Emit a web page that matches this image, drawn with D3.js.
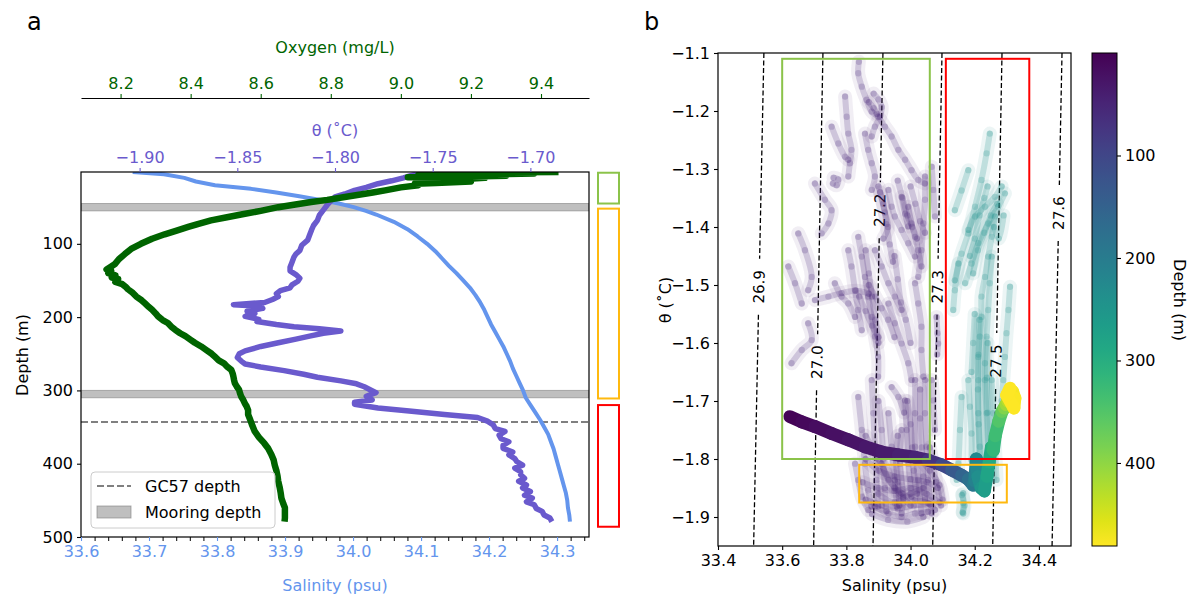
<!DOCTYPE html>
<html>
<head>
<meta charset="utf-8">
<script src="https://cdn.jsdelivr.net/npm/d3@7"></script>
<style>
  body { margin: 0; background: #fff; }
  svg text { font-family: "DejaVu Sans", sans-serif; }
</style>
</head>
<body>
<svg id="fig" width="1198" height="594"></svg>
<script>
// ---------- panel a : CTD profiles, [depth (m), value] ----------
const salinityProfile = [[2,33.676],[5,33.722],[10,33.752],[15,33.769],[20,33.797],[25,33.850],[30,33.887],[35,33.921],[40,33.952],[45,33.979],
  [50,34.001],[55,34.019],[60,34.034],[70,34.060],[80,34.080],[90,34.095],[100,34.109],[110,34.121],[120,34.131],[130,34.141],
  [140,34.152],[150,34.162],[160,34.172],[170,34.180],[180,34.187],[190,34.193],[200,34.198],[210,34.203],[220,34.209],[230,34.215],
  [240,34.221],[250,34.226],[260,34.231],[270,34.235],[280,34.240],[290,34.245],[300,34.250],[310,34.254],[320,34.261],[330,34.268],
  [340,34.275],[350,34.281],[360,34.287],[370,34.291],[380,34.295],[390,34.298],[400,34.301],[410,34.304],[420,34.307],[430,34.310],
  [440,34.313],[450,34.315],[460,34.316],[470,34.318],[479,34.319]];

const thetaProfile = [[2,-1.751],[6,-1.760],[10,-1.765],[14,-1.771],[18,-1.778],[23,-1.784],[27,-1.790],[32,-1.795],[36,-1.800],[41,-1.802],
  [47,-1.804],[54,-1.806],[61,-1.808],[68,-1.809],[75,-1.811],[81,-1.812],[88,-1.813],[95,-1.814],[102,-1.817],[109,-1.818],
  [114,-1.820],[118,-1.821],[125,-1.822],[132,-1.823],[137,-1.823],[142,-1.820],[147,-1.818],[151,-1.819],[156,-1.822],[160,-1.823],
  [164,-1.828],[168,-1.830],[172,-1.829],[176,-1.832],[180,-1.836],[183,-1.852],[185,-1.838],[188,-1.837],[192,-1.845],[195,-1.841],
  [199,-1.846],[203,-1.839],[206,-1.840],[210,-1.830],[213,-1.821],[216,-1.808],[219,-1.797],[222,-1.806],[226,-1.813],[230,-1.820],
  [235,-1.829],[240,-1.838],[246,-1.846],[250,-1.849],[255,-1.850],[260,-1.848],[264,-1.846],[268,-1.838],[273,-1.826],[278,-1.816],
  [282,-1.809],[287,-1.797],[291,-1.789],[295,-1.785],[299,-1.782],[303,-1.779],[308,-1.784],[313,-1.781],[316,-1.790],[319,-1.790],
  [324,-1.778],[328,-1.762],[333,-1.744],[337,-1.727],[342,-1.722],[347,-1.719],[352,-1.718],[356,-1.713],[361,-1.716],[366,-1.715],
  [370,-1.711],[375,-1.714],[379,-1.714],[384,-1.709],[388,-1.711],[393,-1.708],[397,-1.707],[402,-1.704],[406,-1.708],[411,-1.705],
  [415,-1.705],[420,-1.703],[424,-1.706],[429,-1.702],[433,-1.704],[438,-1.700],[443,-1.703],[447,-1.699],[452,-1.702],[456,-1.698],
  [461,-1.697],[465,-1.694],[470,-1.693],[474,-1.690],[479,-1.689]];

const oxygenProfile = [[2,9.45],[3,9.10],[4,9.38],[5,9.27],[6,9.05],[7,9.30],[8,9.20],[9,9.02],[10,9.24],[12,9.17],
  [14,9.05],[15,9.20],[17,9.10],[18,9.04],[20,9.05],[23,9.00],[27,8.955],[30,8.92],[33,8.88],[36,8.84],
  [40,8.79],[43,8.744],[47,8.69],[50,8.65],[55,8.60],[60,8.544],[64,8.50],[68,8.458],[73,8.42],[77,8.393],
  [82,8.36],[87,8.326],[93,8.29],[100,8.258],[107,8.23],[114,8.212],[121,8.195],[128,8.183],[132,8.170],[135,8.160],
  [137,8.173],[140,8.165],[143,8.185],[146,8.175],[148,8.193],[152,8.185],[155,8.205],[159,8.215],[162,8.221],[167,8.235],
  [172,8.245],[177,8.26],[181,8.269],[186,8.28],[190,8.29],[195,8.30],[199,8.307],[204,8.32],[208,8.335],[213,8.345],
  [217,8.355],[222,8.37],[226,8.385],[231,8.40],[235,8.412],[240,8.43],[245,8.445],[250,8.46],[254,8.469],[259,8.48],
  [263,8.495],[268,8.505],[272,8.516],[277,8.52],[281,8.522],[286,8.524],[290,8.526],[295,8.532],[299,8.538],[304,8.541],
  [308,8.544],[313,8.55],[318,8.555],[322,8.56],[327,8.564],[333,8.564],[340,8.57],[348,8.576],[356,8.583],[364,8.595],
  [372,8.61],[379,8.621],[387,8.63],[395,8.637],[402,8.640],[410,8.645],[417,8.648],[424,8.650],[432,8.654],[440,8.657],
  [447,8.659],[454,8.664],[460,8.669],[467,8.669],[474,8.669],[479,8.668]];

const mooringBands = [[45, 55], [300, 310]];   // depth ranges (m)
const gc57Depth = 343;
const layerDepths = [[3, 45], [52, 311], [320, 486]];
const layerColors = ["#8bc34a", "#ffb90f", "#ff0000"];

const salinityTicks = [33.6, 33.7, 33.8, 33.9, 34.0, 34.1, 34.2, 34.3];
const thetaTicks = [-1.90, -1.85, -1.80, -1.75, -1.70];
const oxygenTicks = [8.2, 8.4, 8.6, 8.8, 9.0, 9.2, 9.4];
const depthTicks = [100, 200, 300, 400, 500];

// ---------- panel b : theta-S ----------
// CTD cast [salinity, theta, depth]
const ctdCast = [[33.624,-1.727,3],[33.661,-1.736,8],[33.702,-1.744,13],[33.754,-1.756,18],[33.806,-1.767,23],[33.858,-1.779,28],
  [33.910,-1.788,33],[33.962,-1.793,38],[34.014,-1.797,45],[34.055,-1.802,55],[34.097,-1.810,90],[34.128,-1.819,120],
  [34.159,-1.828,145],[34.180,-1.835,165],[34.195,-1.845,185],[34.200,-1.838,200],[34.205,-1.800,218],[34.210,-1.830,230],
  [34.220,-1.850,245],[34.230,-1.855,260],[34.238,-1.830,275],[34.245,-1.805,285],[34.252,-1.780,300],[34.258,-1.785,312],
  [34.264,-1.760,325],[34.275,-1.735,340],[34.285,-1.718,360],[34.292,-1.712,380],[34.298,-1.706,400],[34.303,-1.700,420],
  [34.308,-1.695,440],[34.313,-1.688,460],[34.318,-1.684,472],[34.325,-1.695,476],[34.322,-1.712,479],[34.300,-1.690,480],[34.310,-1.678,480]];

// mooring time series streaks [salinity, theta]
const upperMooringDepth = 50;
const upperMooring = [
  [[33.839,-1.115],[33.837,-1.135],[33.848,-1.158],[33.863,-1.181],[33.879,-1.201],[33.899,-1.210],[33.920,-1.227],[33.941,-1.244],[33.962,-1.267],[33.983,-1.284],[34.003,-1.302],[34.024,-1.319],[34.045,-1.325]],
  [[33.885,-1.170],[33.900,-1.180],[33.910,-1.193],[33.905,-1.210],[33.889,-1.227],[33.879,-1.244]],
  [[33.870,-1.185],[33.885,-1.195],[33.895,-1.205]],
  [[33.796,-1.175],[33.801,-1.210],[33.806,-1.239],[33.816,-1.267],[33.811,-1.290],[33.806,-1.313]],
  [[33.754,-1.227],[33.775,-1.256],[33.796,-1.279],[33.806,-1.284]],
  [[33.760,-1.315],[33.775,-1.318],[33.770,-1.328],[33.758,-1.325]],
  [[33.858,-1.239],[33.868,-1.267],[33.879,-1.290],[33.889,-1.313],[33.879,-1.336]],
  [[33.702,-1.325],[33.733,-1.353],[33.754,-1.371],[33.744,-1.394],[33.723,-1.411]],
  [[33.650,-1.411],[33.671,-1.440],[33.692,-1.486],[33.681,-1.509]],
  [[33.931,-1.336],[33.941,-1.365],[33.951,-1.382],[33.972,-1.405],[33.993,-1.428],[34.014,-1.451]],
  [[33.993,-1.365],[34.003,-1.394],[34.014,-1.417],[34.024,-1.440],[34.034,-1.468]],
  [[34.045,-1.313],[34.045,-1.353],[34.040,-1.394],[34.034,-1.440],[34.024,-1.486]],
  [[33.972,-1.348],[33.983,-1.377],[33.993,-1.399]],
  [[33.905,-1.340],[33.920,-1.375],[33.930,-1.400],[33.915,-1.420]],
  [[33.900,-1.330],[33.915,-1.360],[33.925,-1.395],[33.935,-1.430],[33.945,-1.460]],
  [[33.960,-1.320],[33.975,-1.350],[33.990,-1.380],[34.005,-1.400],[34.020,-1.420]],
  [[34.000,-1.330],[34.015,-1.360],[34.030,-1.390],[34.045,-1.410]],
  [[33.837,-1.417],[33.848,-1.451],[33.858,-1.486],[33.868,-1.520],[33.879,-1.555],[33.889,-1.589],[33.899,-1.624],[33.899,-1.658]],
  [[33.860,-1.440],[33.870,-1.480],[33.880,-1.520],[33.890,-1.560],[33.900,-1.600]],
  [[33.889,-1.440],[33.910,-1.468],[33.931,-1.497],[33.951,-1.520],[33.972,-1.543]],
  [[33.870,-1.500],[33.890,-1.520],[33.910,-1.540],[33.930,-1.560],[33.950,-1.590]],
  [[33.840,-1.520],[33.860,-1.545],[33.880,-1.570],[33.900,-1.590]],
  [[33.950,-1.450],[33.960,-1.490],[33.970,-1.530],[33.985,-1.560],[34.000,-1.600]],
  [[33.806,-1.440],[33.816,-1.468],[33.827,-1.509],[33.837,-1.543],[33.848,-1.578]],
  [[33.764,-1.497],[33.785,-1.520],[33.806,-1.532],[33.827,-1.555]],
  [[33.702,-1.526],[33.744,-1.520],[33.785,-1.514],[33.830,-1.510],[33.870,-1.515]],
  [[33.931,-1.532],[33.951,-1.566],[33.972,-1.601],[33.993,-1.635],[34.003,-1.664]],
  [[34.014,-1.497],[34.024,-1.532],[34.034,-1.572],[34.034,-1.612],[34.040,-1.658]],
  [[33.629,-1.635],[33.661,-1.612],[33.692,-1.595],[33.681,-1.566]],
  [[33.619,-1.468],[33.640,-1.497],[33.661,-1.532]],
  [[34.066,-1.296],[34.071,-1.336],[34.076,-1.382]],
  [[34.081,-1.555],[34.084,-1.583],[34.086,-1.601],[34.083,-1.620]],
  [[34.014,-1.664],[34.014,-1.721],[34.014,-1.779],[34.024,-1.836],[34.034,-1.894]],
  [[34.045,-1.664],[34.045,-1.721],[34.050,-1.779],[34.055,-1.836],[34.066,-1.894]],
  [[33.983,-1.699],[33.988,-1.750],[33.993,-1.808],[34.003,-1.865]],
  [[33.972,-1.750],[33.967,-1.808],[33.977,-1.865],[33.972,-1.894]],
  [[33.931,-1.721],[33.941,-1.779],[33.951,-1.836],[33.957,-1.882]],
  [[33.879,-1.664],[33.884,-1.721],[33.889,-1.779],[33.894,-1.836],[33.899,-1.882]],
  [[33.837,-1.693],[33.848,-1.750],[33.858,-1.808],[33.868,-1.854],[33.879,-1.882]],
  [[33.827,-1.808],[33.837,-1.836],[33.848,-1.865],[33.868,-1.888]],
  [[33.910,-1.808],[33.931,-1.836],[33.972,-1.859],[34.014,-1.871],[34.055,-1.876],[34.076,-1.888]],
  [[33.889,-1.882],[33.931,-1.894],[33.972,-1.900],[34.014,-1.894],[34.055,-1.891]],
  [[34.066,-1.664],[34.071,-1.699],[34.076,-1.750]],
  [[33.941,-1.676],[33.962,-1.693],[33.980,-1.720]],
  [[33.860,-1.760],[33.900,-1.800],[33.950,-1.850],[34.000,-1.880]],
  [[34.030,-1.800],[34.060,-1.820],[34.090,-1.845],[34.100,-1.870]],
  [[33.900,-1.860],[33.950,-1.875],[34.000,-1.860],[34.040,-1.850]],
  [[33.860,-1.800],[33.900,-1.820],[33.950,-1.830],[34.000,-1.835],[34.050,-1.840],[34.085,-1.850]],
  [[33.850,-1.840],[33.900,-1.850],[33.950,-1.855],[34.000,-1.850],[34.050,-1.860],[34.090,-1.875]],
  [[33.860,-1.870],[33.910,-1.880],[33.960,-1.885],[34.010,-1.880],[34.060,-1.878]],
  [[33.990,-1.700],[34.000,-1.740],[34.005,-1.780],[34.010,-1.820],[34.020,-1.860]],
  [[34.030,-1.680],[34.030,-1.730],[34.035,-1.780],[34.040,-1.830],[34.045,-1.870]],
  [[33.960,-1.760],[33.955,-1.800],[33.960,-1.840],[33.965,-1.880]],
  [[33.900,-1.700],[33.910,-1.750],[33.915,-1.800],[33.920,-1.850],[33.925,-1.890]],
  [[34.060,-1.780],[34.070,-1.810],[34.080,-1.840],[34.095,-1.880]],
  [[33.880,-1.895],[33.930,-1.905],[33.990,-1.908],[34.040,-1.900]]
];
const lowerMooringDepth = 240;
const lowerMooring = [
  [[34.247,-1.239],[34.237,-1.273],[34.221,-1.319],[34.201,-1.365],[34.180,-1.411],[34.159,-1.446],[34.138,-1.492]],
  [[34.294,-1.342],[34.273,-1.365],[34.242,-1.394],[34.211,-1.428],[34.190,-1.463],[34.170,-1.497]],
  [[34.284,-1.330],[34.263,-1.348],[34.232,-1.365],[34.201,-1.382],[34.180,-1.405]],
  [[34.240,-1.330],[34.230,-1.350],[34.215,-1.380],[34.200,-1.420],[34.185,-1.450]],
  [[34.270,-1.360],[34.250,-1.380],[34.230,-1.410],[34.210,-1.440],[34.195,-1.480]],
  [[34.263,-1.382],[34.253,-1.417],[34.242,-1.451],[34.232,-1.486],[34.221,-1.520],[34.221,-1.555],[34.216,-1.589],[34.211,-1.624],[34.211,-1.664],[34.211,-1.721],[34.216,-1.779],[34.221,-1.825]],
  [[34.253,-1.451],[34.247,-1.497],[34.242,-1.543],[34.237,-1.589],[34.232,-1.635],[34.232,-1.664],[34.237,-1.721],[34.242,-1.779],[34.247,-1.836]],
  [[34.215,-1.560],[34.212,-1.620],[34.210,-1.680],[34.212,-1.740],[34.215,-1.800]],
  [[34.240,-1.600],[34.238,-1.660],[34.240,-1.720],[34.245,-1.780],[34.250,-1.830]],
  [[34.310,-1.503],[34.305,-1.543],[34.299,-1.583],[34.294,-1.624],[34.289,-1.664],[34.284,-1.700]],
  [[34.149,-1.463],[34.138,-1.509],[34.133,-1.543]],
  [[34.180,-1.302],[34.159,-1.337],[34.138,-1.371]],
  [[34.253,-1.664],[34.258,-1.721],[34.263,-1.779],[34.268,-1.836]],
  [[34.159,-1.693],[34.154,-1.750],[34.149,-1.808],[34.144,-1.836]],
  [[34.180,-1.664],[34.185,-1.710],[34.190,-1.756],[34.190,-1.802]],
  [[34.164,-1.859],[34.164,-1.876],[34.164,-1.894]],
  [[34.160,-1.862],[34.168,-1.880],[34.162,-1.892]],
  [[34.200,-1.550],[34.195,-1.600],[34.190,-1.650]],
  [[34.260,-1.400],[34.275,-1.420],[34.290,-1.380]]
];

// isopycnals: salinity where each crosses theta = -1.1 (top) and -1.95 (bottom)
const isoLabels = ["26.9", "27.0", "27.2", "27.3", "27.5", "27.6"];
const isoTopS = [33.543, 33.727, 33.914, 34.098, 34.285, 34.472];
const isoBottomS = [33.511, 33.698, 33.883, 34.069, 34.256, 34.441];
const isoLabelTheta = [-1.503, -1.633, -1.371, -1.503, -1.631, -1.376];

// water mass boxes [S min, S max, theta min, theta max]
const tsBoxes = [[33.60, 34.06, -1.80, -1.11], [34.11, 34.37, -1.80, -1.11], [33.84, 34.30, -1.875, -1.81]];
const tsBoxColors = ["#8bc34a", "#ff0000", "#ffb90f"];

const tsSalTicks = [33.4, 33.6, 33.8, 34.0, 34.2, 34.4];
const tsThetaTicks = [-1.1, -1.2, -1.3, -1.4, -1.5, -1.6, -1.7, -1.8, -1.9];
const cbTicks = [100, 200, 300, 400];

// ---------- drawing ----------
const svg = d3.select("#fig");
const oxyColor = "#006400", thetaColor = "#6a5acd", salColor = "#6495ed";

const pa = { left: 81, right: 589, top: 172, bottom: 537 };
const yDepth = d3.scaleLinear().domain([2, 500]).range([pa.top, pa.bottom]);
const xSal = d3.scaleLinear().domain([33.6, 34.347]).range([pa.left, pa.right]);
const xTheta = d3.scaleLinear().domain([-1.93, -1.67]).range([pa.left, pa.right]);
const xOxy = d3.scaleLinear().domain([8.087, 9.537]).range([pa.left, pa.right]);

function fixAxis(g, textColor, tickColor) {
    g.attr("font-size", null).attr("font-family", null);
    g.selectAll("text").attr("fill", textColor).style("font-size", "16px");
    g.selectAll(".tick line").attr("stroke", tickColor).attr("stroke-width", 1.1);
}

svg.append("clipPath").attr("id", "clipA")
    .append("rect").attr("x", pa.left).attr("y", pa.top)
    .attr("width", pa.right - pa.left).attr("height", pa.bottom - pa.top);

const gA = svg.append("g").attr("clip-path", "url(#clipA)");

// mooring depth bands
gA.selectAll("rect.band").data(mooringBands).join("rect")
    .attr("x", pa.left).attr("width", pa.right - pa.left)
    .attr("y", (d) => yDepth(d[0]))
    .attr("height", (d) => yDepth(d[1]) - yDepth(d[0]))
    .attr("fill", "gray").attr("fill-opacity", 0.5)
    .attr("stroke", "gray").attr("stroke-opacity", 0.6);

gA.append("line")
    .attr("x1", pa.left).attr("x2", pa.right)
    .attr("y1", yDepth(gc57Depth)).attr("y2", yDepth(gc57Depth))
    .attr("stroke", "gray").attr("stroke-width", 2).attr("stroke-dasharray", "7,3");

function drawProfile(data, xs, color, width) {
    const line = d3.line().x((d) => xs(d[1])).y((d) => yDepth(d[0]));
    gA.append("path").attr("d", line(data))
        .attr("fill", "none").attr("stroke", color)
        .attr("stroke-width", width).attr("stroke-linejoin", "round");
}
drawProfile(salinityProfile, xSal, salColor, 4);
drawProfile(thetaProfile, xTheta, thetaColor, 5.5);
drawProfile(oxygenProfile, xOxy, oxyColor, 6.5);

svg.append("rect").attr("x", pa.left).attr("y", pa.top)
    .attr("width", pa.right - pa.left).attr("height", pa.bottom - pa.top)
    .attr("fill", "none").attr("stroke", "black").attr("stroke-width", 1.2);

// salinity axis: minor ticks then majors
const minorSal = d3.range(0, 38).map((i) => +(33.6 + i * 0.02).toFixed(2));
svg.append("g").attr("transform", `translate(0,${pa.bottom})`)
    .call(d3.axisBottom(xSal).tickValues(minorSal).tickFormat("").tickSize(4).tickSizeOuter(0))
    .call((g) => { g.select(".domain").remove(); g.selectAll(".tick line").attr("stroke", "black"); });
svg.append("g").attr("transform", `translate(0,${pa.bottom})`)
    .call(d3.axisBottom(xSal).tickValues(salinityTicks).tickFormat(d3.format(".1f")).tickSize(4).tickPadding(5))
    .call((g) => { g.select(".domain").remove(); fixAxis(g, salColor, salColor); });

svg.append("g").attr("transform", `translate(${pa.left},0)`)
    .call(d3.axisLeft(yDepth).tickValues(depthTicks).tickSize(4).tickPadding(4))
    .call((g) => { g.select(".domain").remove(); fixAxis(g, "black", "black"); });

svg.append("g").attr("transform", `translate(0,${pa.top})`)
    .call(d3.axisTop(xTheta).tickValues(thetaTicks).tickFormat(d3.format(".2f")).tickSize(4).tickPadding(5))
    .call((g) => { g.select(".domain").remove(); fixAxis(g, thetaColor, thetaColor); });

const oxyAxisY = 98;
svg.append("g").attr("transform", `translate(0,${oxyAxisY})`)
    .call(d3.axisTop(xOxy).tickValues(oxygenTicks).tickFormat(d3.format(".1f")).tickSize(4).tickPadding(5).tickSizeOuter(0))
    .call((g) => { g.select(".domain").attr("stroke", "black").attr("stroke-width", 1.2); fixAxis(g, oxyColor, oxyColor); });

svg.append("text").attr("x", 335).attr("y", 53).attr("text-anchor", "middle")
    .attr("fill", oxyColor).style("font-size", "16px").text("Oxygen (mg/L)");
svg.append("text").attr("x", 335).attr("y", 136).attr("text-anchor", "middle")
    .attr("fill", thetaColor).style("font-size", "16px").text("θ (˚C)");
svg.append("text").attr("x", 335).attr("y", 591).attr("text-anchor", "middle")
    .attr("fill", salColor).style("font-size", "16px").text("Salinity (psu)");
svg.append("text").attr("transform", "translate(22,355) rotate(-90)").attr("dy", "0.35em")
    .attr("text-anchor", "middle").style("font-size", "16px").text("Depth (m)");

// layer boxes to the right of panel a
svg.selectAll("rect.layer").data(layerDepths).join("rect")
    .attr("x", 598).attr("width", 21)
    .attr("y", (d) => yDepth(d[0]))
    .attr("height", (d) => yDepth(d[1]) - yDepth(d[0]))
    .attr("fill", "none").attr("stroke-width", 2)
    .attr("stroke", (d, i) => layerColors[i]);

// legend
const lg = svg.append("g");
lg.append("rect").attr("x", 91).attr("y", 472).attr("width", 184).attr("height", 56).attr("rx", 4)
    .attr("fill", "white").attr("fill-opacity", 0.8).attr("stroke", "#cccccc");
lg.append("line").attr("x1", 97).attr("x2", 131).attr("y1", 486).attr("y2", 486)
    .attr("stroke", "gray").attr("stroke-width", 2).attr("stroke-dasharray", "7,3");
lg.append("text").attr("x", 145).attr("y", 492).style("font-size", "16px").text("GC57 depth");
lg.append("rect").attr("x", 97).attr("y", 506).attr("width", 34).attr("height", 12)
    .attr("fill", "gray").attr("fill-opacity", 0.5).attr("stroke", "gray").attr("stroke-opacity", 0.6);
lg.append("text").attr("x", 145).attr("y", 518).style("font-size", "16px").text("Mooring depth");

// ---------- panel b ----------
const pb = { left: 718, right: 1071, top: 53, bottom: 546 };
const xB = d3.scaleLinear().domain([33.4, 34.5]).range([pb.left, pb.right]);
const yB = d3.scaleLinear().domain([-1.95, -1.1]).range([pb.bottom, pb.top]);
const depthColor = d3.scaleSequential(d3.interpolateViridis).domain([0, 481]);

svg.append("clipPath").attr("id", "clipB")
    .append("rect").attr("x", pb.left).attr("y", pb.top)
    .attr("width", pb.right - pb.left).attr("height", pb.bottom - pb.top);
const gB = svg.append("g").attr("clip-path", "url(#clipB)");

// isopycnals with a gap for the label
const isoG = gB.append("g");
isoLabels.forEach((lab, i) => {
    const sAt = (t) => isoBottomS[i] + (isoTopS[i] - isoBottomS[i]) * (t + 1.95) / 0.85;
    const yl = yB(isoLabelTheta[i]);
    const tA = yB.invert(yl - 28), tB = yB.invert(yl + 28);
    const segs = [[-1.1, tA], [tB, -1.95]];
    segs.forEach((s) => {
        isoG.append("line")
            .attr("x1", xB(sAt(s[0]))).attr("y1", yB(s[0]))
            .attr("x2", xB(sAt(s[1]))).attr("y2", yB(s[1]))
            .attr("stroke", "black").attr("stroke-width", 1.3).attr("stroke-dasharray", "5,2.5");
    });
    const ang = Math.atan2(yB(-1.1) - yB(-1.95), xB(isoTopS[i]) - xB(isoBottomS[i])) * 180 / Math.PI;
    isoG.append("text")
        .attr("transform", `translate(${xB(sAt(isoLabelTheta[i]))},${yl}) rotate(${ang})`)
        .attr("text-anchor", "middle").attr("dy", "0.35em")
        .style("font-size", "15px").text(lab);
});

const streakLine = d3.line().x((d) => xB(d[0])).y((d) => yB(d[1])).curve(d3.curveCatmullRom);
function drawMooring(streaks, depth, op) {
    const c = depthColor(depth);
    const g = gB.append("g");
    // wide faint halo, then core streak, then the sampled points
    g.selectAll("path.halo").data(streaks).join("path").attr("class", "halo")
        .attr("d", streakLine).attr("fill", "none").attr("stroke", c)
        .attr("stroke-width", 14).attr("stroke-opacity", op * 0.4)
        .attr("stroke-linecap", "round").attr("stroke-linejoin", "round");
    g.selectAll("path.core").data(streaks).join("path").attr("class", "core")
        .attr("d", streakLine).attr("fill", "none").attr("stroke", c)
        .attr("stroke-width", 6).attr("stroke-opacity", op)
        .attr("stroke-linecap", "round").attr("stroke-linejoin", "round");
    g.selectAll("circle").data(streaks.flat()).join("circle")
        .attr("cx", (d) => xB(d[0])).attr("cy", (d) => yB(d[1]))
        .attr("r", 3.2).attr("fill", c).attr("fill-opacity", op);
}
drawMooring(upperMooring, upperMooringDepth, 0.2);
drawMooring(lowerMooring, lowerMooringDepth, 0.22);

// CTD cast as a thick coloured trail
gB.append("g").selectAll("line").data(d3.pairs(ctdCast)).join("line")
    .attr("x1", (d) => xB(d[0][0])).attr("y1", (d) => yB(d[0][1]))
    .attr("x2", (d) => xB(d[1][0])).attr("y2", (d) => yB(d[1][1]))
    .attr("stroke", (d) => depthColor((d[0][2] + d[1][2]) / 2))
    .attr("stroke-width", 13).attr("stroke-linecap", "round");

// boxes
gB.append("g").selectAll("rect").data(tsBoxes).join("rect")
    .attr("x", (d) => xB(d[0])).attr("width", (d) => xB(d[1]) - xB(d[0]))
    .attr("y", (d) => yB(d[3])).attr("height", (d) => yB(d[2]) - yB(d[3]))
    .attr("fill", "none").attr("stroke-width", 2)
    .attr("stroke", (d, i) => tsBoxColors[i]);

svg.append("rect").attr("x", pb.left).attr("y", pb.top)
    .attr("width", pb.right - pb.left).attr("height", pb.bottom - pb.top)
    .attr("fill", "none").attr("stroke", "black").attr("stroke-width", 1.2);

svg.append("g").attr("transform", `translate(0,${pb.bottom})`)
    .call(d3.axisBottom(xB).tickValues(tsSalTicks).tickFormat(d3.format(".1f")).tickSize(4).tickPadding(5))
    .call((g) => { g.select(".domain").remove(); fixAxis(g, "black", "black"); });
svg.append("g").attr("transform", `translate(${pb.left},0)`)
    .call(d3.axisLeft(yB).tickValues(tsThetaTicks).tickFormat(d3.format(".1f")).tickSize(4).tickPadding(4))
    .call((g) => { g.select(".domain").remove(); fixAxis(g, "black", "black"); });

svg.append("text").attr("x", (pb.left + pb.right) / 2).attr("y", 591).attr("text-anchor", "middle")
    .style("font-size", "16px").text("Salinity (psu)");
svg.append("text").attr("transform", "translate(665,300) rotate(-90)").attr("dy", "0.35em")
    .attr("text-anchor", "middle").style("font-size", "16px").text("θ (˚C)");

// colorbar
const cb = { left: 1092, right: 1117 };
const yCb = d3.scaleLinear().domain([0, 481]).range([pb.top, pb.bottom]);
const grad = svg.append("defs").append("linearGradient").attr("id", "viridisGrad")
    .attr("x1", 0).attr("x2", 0).attr("y1", 0).attr("y2", 1);
grad.selectAll("stop").data(d3.range(0, 1.0001, 0.05)).join("stop")
    .attr("offset", (d) => d).attr("stop-color", (d) => d3.interpolateViridis(d));
svg.append("rect").attr("x", cb.left).attr("y", pb.top)
    .attr("width", cb.right - cb.left).attr("height", pb.bottom - pb.top)
    .attr("fill", "url(#viridisGrad)").attr("stroke", "black").attr("stroke-width", 1);
svg.append("g").attr("transform", `translate(${cb.right},0)`)
    .call(d3.axisRight(yCb).tickValues(cbTicks).tickSize(4).tickPadding(4))
    .call((g) => { g.select(".domain").remove(); fixAxis(g, "black", "black"); });
svg.append("text").attr("transform", "translate(1180,300) rotate(90)").attr("dy", "0.35em")
    .attr("text-anchor", "middle").style("font-size", "16px").text("Depth (m)");

// panel letters
svg.append("text").attr("x", 27).attr("y", 30).style("font-size", "24px").text("a");
svg.append("text").attr("x", 644).attr("y", 30).style("font-size", "24px").text("b");
</script>
</body>
</html>
